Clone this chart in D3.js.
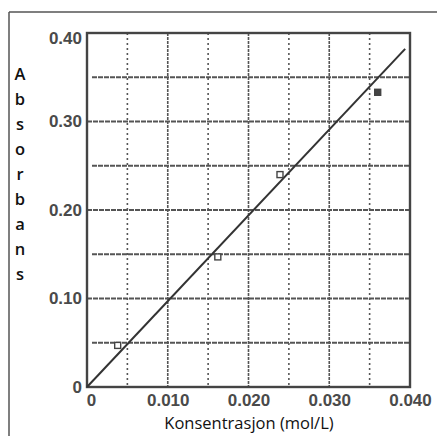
<!DOCTYPE html>
<html>
<head>
<meta charset="utf-8">
<script src="https://cdn.jsdelivr.net/npm/d3@7"></script>
<style>
  body { margin: 0; background: #fff; }
  svg { display: block; }
</style>
</head>
<body>
<svg width="437" height="436"></svg>
<script>
(function() {

  // measured points (concentration mol/L, absorbance)
  var conc = [0.0038, 0.0162, 0.0239, 0.0360];
  var absorb = [0.047, 0.147, 0.240, 0.333];
  var filled = [false, false, false, true];

  // fitted line
  var fitX = [0, 0.0394];
  var fitY = [0, 0.382];

  var xTicks = [0, 0.010, 0.020, 0.030, 0.040];
  var xTickLabels = ['0', '0.010', '0.020', '0.030', '0.040'];
  var yTicks = [0, 0.10, 0.20, 0.30, 0.40];
  var yTickLabels = ['0', '0.10', '0.20', '0.30', '0.40'];
  var xGrid = [0.005, 0.010, 0.015, 0.020, 0.025, 0.030, 0.035];
  var yGrid = [0.05, 0.10, 0.15, 0.20, 0.25, 0.30, 0.35];

  var xTitle = 'Konsentrasjon (mol/L)';
  var yTitle = 'Absorbans';

  var svg = d3.select('svg');
  var left = 87, right = 410, top = 33, bottom = 387;

  var x = d3.scaleLinear().domain([0, 0.04]).range([left, right]);
  var y = d3.scaleLinear().domain([0, 0.40]).range([bottom, top]);

  // outer frame (only top and left visible)
  svg.append('line')
    .attr('x1', 9).attr('y1', 12).attr('x2', 437).attr('y2', 12)
    .attr('stroke', '#555').attr('stroke-width', 1.5);
  svg.append('line')
    .attr('x1', 9).attr('y1', 12).attr('x2', 9).attr('y2', 436)
    .attr('stroke', '#555').attr('stroke-width', 1.5);

  // grid
  svg.selectAll('.vgrid').data(xGrid)
    .enter().append('line')
    .attr('class', 'vgrid')
    .attr('x1', function(d) { return x(d); })
    .attr('x2', function(d) { return x(d); })
    .attr('y1', top).attr('y2', bottom)
    .attr('stroke', '#555')
    .attr('stroke-width', 1.6)
    .attr('stroke-dasharray', function(d, i) { return i % 2 == 0 ? '2,3' : '3,1'; });

  svg.selectAll('.hgrid').data(yGrid)
    .enter().append('line')
    .attr('class', 'hgrid')
    .attr('x1', function(d, i) { return i % 2 == 0 ? left + 5 : left; })
    .attr('x2', right)
    .attr('y1', function(d) { return y(d); })
    .attr('y2', function(d) { return y(d); })
    .attr('stroke', '#555')
    .attr('stroke-width', 2)
    .attr('stroke-dasharray', '5,1');

  // plot frame
  svg.append('rect')
    .attr('x', left).attr('y', top)
    .attr('width', right - left).attr('height', bottom - top)
    .attr('fill', 'none')
    .attr('stroke', '#444')
    .attr('stroke-width', 2.4);

  // axes labels
  var xAxis = d3.axisBottom(x).tickValues(xTicks)
    .tickFormat(function(d, i) { return xTickLabels[i]; })
    .tickSize(0).tickPadding(7);
  var gx = svg.append('g').attr('transform', 'translate(0,' + bottom + ')').call(xAxis);
  gx.select('.domain').remove();
  gx.selectAll('text')
    .style('font-family', 'Liberation Sans, Arial, sans-serif')
    .style('font-weight', 'bold')
    .style('font-size', '17px')
    .attr('fill', '#4a4a4a');
  gx.selectAll('text').filter(function(d) { return d == 0; }).attr('dx', 4);

  var yAxis = d3.axisLeft(y).tickValues(yTicks)
    .tickFormat(function(d, i) { return yTickLabels[i]; })
    .tickSize(0).tickPadding(5);
  var gy = svg.append('g').attr('transform', 'translate(' + left + ',0)').call(yAxis);
  gy.select('.domain').remove();
  gy.selectAll('text')
    .style('font-family', 'Liberation Sans, Arial, sans-serif')
    .style('font-weight', 'bold')
    .style('font-size', '17px')
    .attr('fill', '#4a4a4a');
  gy.selectAll('text').filter(function(d) { return d == 0.40; }).attr('dy', '0.6em');

  // fit line
  var line = d3.line()
    .x(function(d) { return x(d[0]); })
    .y(function(d) { return y(d[1]); });
  svg.append('path')
    .datum(d3.zip(fitX, fitY))
    .attr('d', line)
    .attr('fill', 'none')
    .attr('stroke', '#333')
    .attr('stroke-width', 2);

  // points
  svg.selectAll('.pt').data(d3.range(conc.length))
    .enter().append('rect')
    .attr('class', 'pt')
    .attr('x', function(i) { return x(conc[i]) - 3; })
    .attr('y', function(i) { return y(absorb[i]) - 3; })
    .attr('width', 6).attr('height', 6)
    .attr('fill', function(i) { return filled[i] ? '#444' : '#fff'; })
    .attr('stroke', '#444')
    .attr('stroke-width', 1.4);

  // titles
  svg.append('text')
    .attr('x', 249).attr('y', 429)
    .attr('text-anchor', 'middle')
    .style('font-family', 'Open Sans, sans-serif')
    .style('font-size', '16.5px')
    .attr('fill', '#111')
    .text(xTitle);

  svg.selectAll('.ylet').data(yTitle.split(''))
    .enter().append('text')
    .attr('class', 'ylet')
    .attr('x', 20)
    .attr('y', function(d, i) { return 80 + i * 25; })
    .attr('text-anchor', 'middle')
    .style('font-family', 'Open Sans, sans-serif')
    .style('font-weight', 600)
    .style('font-size', '16.5px')
    .attr('fill', '#111')
    .text(function(d) { return d; });

})();
</script>
</body>
</html>
